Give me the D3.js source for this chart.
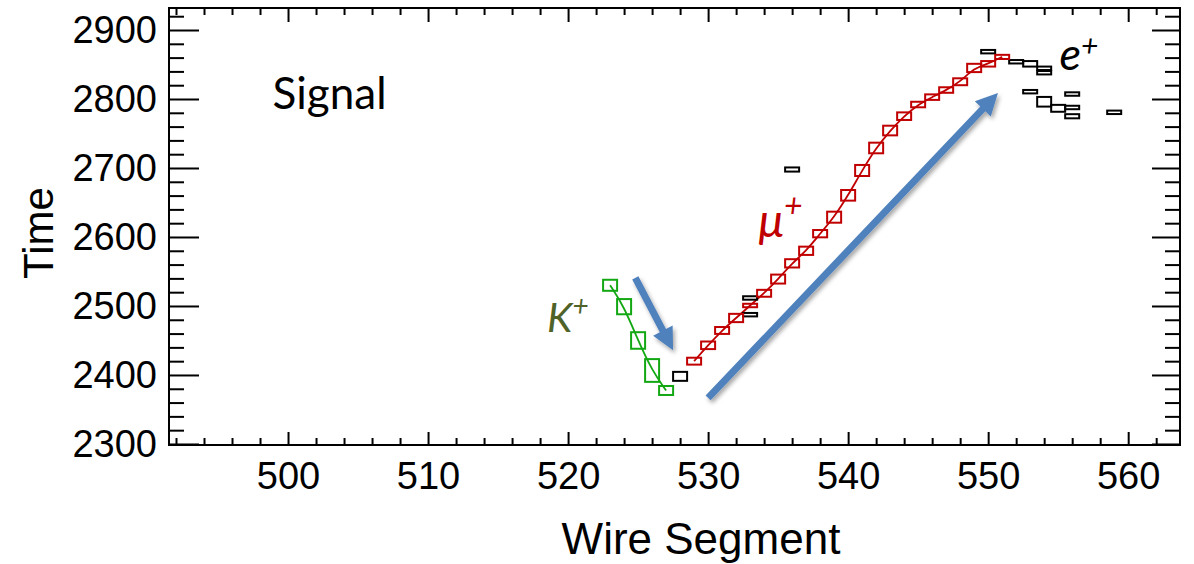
<!DOCTYPE html>
<html>
<head>
<meta charset="utf-8">
<script src="https://cdn.jsdelivr.net/npm/d3@7"></script>
<style>
	body { margin: 0; background: #fff; }
	#chart { width: 1194px; height: 564px; }
	.tick text { font-family: "Liberation Sans", Arial, sans-serif; font-size: 38px; fill: #000; }
	.tick line { stroke: #000; stroke-width: 2px; }
</style>
</head>
<body>
<div id="chart"></div>
<script>
"use strict"

// hits: wire, drift time, half height of the box
const kaonWire = [523, 524, 525, 526, 527];
const kaonTime = [2530, 2499, 2450, 2406.5, 2377.5];
const kaonErr  = [8, 11, 12, 16.5, 6.5];

const muonWire = [529, 530, 531, 532, 533, 534, 535, 536, 537, 538, 539, 540,
                  541, 542, 543, 544, 545, 546, 547, 548, 549, 550, 551];
const muonTime = [2420, 2443, 2464.5, 2482.6, 2500.7, 2518.4, 2539, 2561.8, 2580, 2604.8, 2628.7, 2660.4,
                  2696.4, 2729, 2754.3, 2775.1, 2792, 2802.7, 2813, 2825, 2845, 2851, 2861];
const muonErr  = [5, 5.5, 5, 6, 2.5, 5, 6.5, 6, 6, 5.3, 8, 7.7,
                  8, 7.7, 7, 5.5, 4, 4, 4, 5, 6, 4, 3];

const otherWire = [528, 533, 533, 536, 550, 552, 553, 554, 554, 553, 554, 555, 556, 556, 556, 559];
const otherTime = [2398, 2511.6, 2487.4, 2697.8, 2868.6, 2854, 2851, 2844.5, 2838.1,
                   2810.6, 2796, 2786.5, 2807.2, 2787.7, 2775, 2780.7];
const otherErr  = [6.5, 2.5, 2.5, 3, 2.5, 2.5, 4, 2.5, 2.5, 2.5, 7, 5, 2.5, 2.5, 3, 2.5];

const xTicks = [500, 510, 520, 530, 540, 550, 560];
const yTicks = [2300, 2400, 2500, 2600, 2700, 2800, 2900];

// arrows, in (wire, time)
const arrowFrom = [[524.8, 2540.6], [530.0, 2366.7]];
const arrowTo   = [[527.5, 2436.0], [550.7, 2808.7]];

let EventView = function(targetID) {
	let self = {
		targetID: targetID,
		totalWidth: 1194,
		totalHeight: 564,
		margin: {left: 169, right: 14, top: 8, bottom: 119},
		width: 0,
		height: 0,
		svg: null,
		g: null,
		xScale: d3.scaleLinear().domain([491.5, 563.7]),
		yScale: d3.scaleLinear().domain([2298.5, 2931.9]),
	}

	function hits(wires, times, errs) {
		return wires.map((w, i) => ({wire: w, time: times[i], err: errs[i]}));
	}

	function initTarget() {
		self.width = self.totalWidth - self.margin.left - self.margin.right;
		self.height = self.totalHeight - self.margin.top - self.margin.bottom;
		self.xScale.range([0, self.width]);
		self.yScale.range([self.height, 0]);

		self.svg = d3.select(self.targetID).append("svg")
			.attr("width", self.totalWidth)
			.attr("height", self.totalHeight);

		let shadow = self.svg.append("defs").append("filter")
			.attr("id", "shadow")
			.attr("x", "-20%").attr("y", "-20%")
			.attr("width", "140%").attr("height", "140%");
		shadow.append("feDropShadow")
			.attr("dx", 2).attr("dy", 3)
			.attr("stdDeviation", 2)
			.attr("flood-color", "#000")
			.attr("flood-opacity", 0.35);

		self.g = self.svg.append("g")
			.attr("transform", `translate(${self.margin.left},${self.margin.top})`);
	}

	function drawAxes() {
		let x = self.xScale, y = self.yScale;
		let xMinor = d3.range(492, 564, 2).filter(v => v % 10 != 0);
		let yMinor = d3.range(2300, 2932, 20).filter(v => v % 100 != 0);
		let fmt = d3.format("d");

		let put = (axis, tx, ty) => self.g.append("g")
			.attr("transform", `translate(${tx},${ty})`)
			.call(axis)
			.call(g => g.select(".domain").remove());

		put(d3.axisBottom(x).tickValues(xTicks).tickFormat(fmt).tickSizeInner(-13).tickSizeOuter(0).tickPadding(17), 0, self.height);
		put(d3.axisBottom(x).tickValues(xMinor).tickSizeInner(-7).tickSizeOuter(0).tickFormat(""), 0, self.height);
		put(d3.axisTop(x).tickValues(xTicks).tickSizeInner(-14).tickSizeOuter(0).tickFormat(""), 0, 0);
		put(d3.axisTop(x).tickValues(xMinor).tickSizeInner(-7).tickSizeOuter(0).tickFormat(""), 0, 0);

		put(d3.axisLeft(y).tickValues(yTicks).tickFormat(fmt).tickSizeInner(-30).tickSizeOuter(0).tickPadding(12), 0, 0);
		put(d3.axisLeft(y).tickValues(yMinor).tickSizeInner(-15).tickSizeOuter(0).tickFormat(""), 0, 0);
		put(d3.axisRight(y).tickValues(yTicks).tickSizeInner(-28).tickSizeOuter(0).tickFormat(""), self.width, 0);
		put(d3.axisRight(y).tickValues(yMinor).tickSizeInner(-15).tickSizeOuter(0).tickFormat(""), self.width, 0);

		self.g.append("rect")
			.attr("width", self.width)
			.attr("height", self.height)
			.attr("fill", "none")
			.attr("stroke", "#000")
			.attr("stroke-width", 2);

		self.svg.append("text")
			.attr("x", 701).attr("y", 554)
			.attr("text-anchor", "middle")
			.style("font-family", "Liberation Sans, Arial, sans-serif")
			.style("font-size", "44px")
			.text("Wire Segment");

		self.svg.append("text")
			.attr("transform", "translate(53,233)rotate(-90)")
			.attr("text-anchor", "middle")
			.style("font-family", "Liberation Sans, Arial, sans-serif")
			.style("font-size", "42px")
			.text("Time");
	}

	function drawBoxes(data, color, cls) {
		let x = self.xScale, y = self.yScale;
		self.g.append("g").attr("class", cls).selectAll("rect")
			.data(data)
			.enter().append("rect")
				.attr("x", d => x(d.wire - 0.5))
				.attr("y", d => y(d.time + d.err))
				.attr("width", d => x(d.wire + 0.5) - x(d.wire - 0.5))
				.attr("height", d => y(d.time - d.err) - y(d.time + d.err))
				.attr("fill", "none")
				.attr("stroke", color)
				.attr("stroke-width", 2);
	}

	function drawTrack(data, color) {
		let line = d3.line()
			.x(d => self.xScale(d.wire))
			.y(d => self.yScale(d.time))
			.curve(d3.curveBasis);
		self.g.append("path")
			.datum(data)
			.attr("d", line)
			.attr("fill", "none")
			.attr("stroke", color)
			.attr("stroke-width", 1.8);
	}

	function drawArrows() {
		let x = self.xScale, y = self.yScale;
		let shaft = 3.5, headLen = 22, headHalf = 11;

		arrowFrom.forEach((from, i) => {
			let x0 = x(from[0]), y0 = y(from[1]);
			let x1 = x(arrowTo[i][0]), y1 = y(arrowTo[i][1]);
			let len = Math.hypot(x1 - x0, y1 - y0);
			let ux = (x1 - x0) / len, uy = (y1 - y0) / len;
			let nx = -uy, ny = ux;
			let bx = x1 - ux * headLen, by = y1 - uy * headLen;
			let pts = [
				[x0 + nx * shaft, y0 + ny * shaft],
				[bx + nx * shaft, by + ny * shaft],
				[bx + nx * headHalf, by + ny * headHalf],
				[x1, y1],
				[bx - nx * headHalf, by - ny * headHalf],
				[bx - nx * shaft, by - ny * shaft],
				[x0 - nx * shaft, y0 - ny * shaft],
			];
			self.g.append("path")
				.attr("d", "M" + pts.map(p => p.join(",")).join("L") + "Z")
				.attr("fill", "#4f81bd")
				.attr("filter", "url(#shadow)");
		});
	}

	function label(wire, time, main, color, size, supSize, supDy) {
		let t = self.g.append("text")
			.attr("x", self.xScale(wire))
			.attr("y", self.yScale(time))
			.style("font-family", "Lato, 'Open Sans', sans-serif")
			.style("font-size", size + "px")
			.attr("fill", color);
		if (supSize) {
			t.style("font-style", "italic");
			t.append("tspan").text(main);
			t.append("tspan")
				.attr("dy", supDy)
				.style("font-size", supSize + "px")
				.text("+");
		} else {
			t.text(main);
		}
	}

	function draw() {
		initTarget();
		drawAxes();

		let kaon = hits(kaonWire, kaonTime, kaonErr);
		let muon = hits(muonWire, muonTime, muonErr);
		let other = hits(otherWire, otherTime, otherErr);

		drawTrack(kaon, "#13a813");
		drawTrack(muon, "#c00000");
		drawBoxes(other, "#000", "other_hits");
		drawBoxes(kaon, "#13a813", "kaon_hits");
		drawBoxes(muon, "#c00000", "muon_hits");
		drawArrows();

		label(498.9, 2785.5, "Signal", "#000", 44);
		label(518.5, 2462.3, "K", "#4f6228", 41, 28, -16);
		label(533.6, 2600, "\u03bc", "#c00000", 46, 32, -20);
		label(555.1, 2842, "e", "#000", 45, 30, -14);
	}

	return {
		draw,
	};
}

EventView("#chart").draw();
</script>
</body>
</html>
